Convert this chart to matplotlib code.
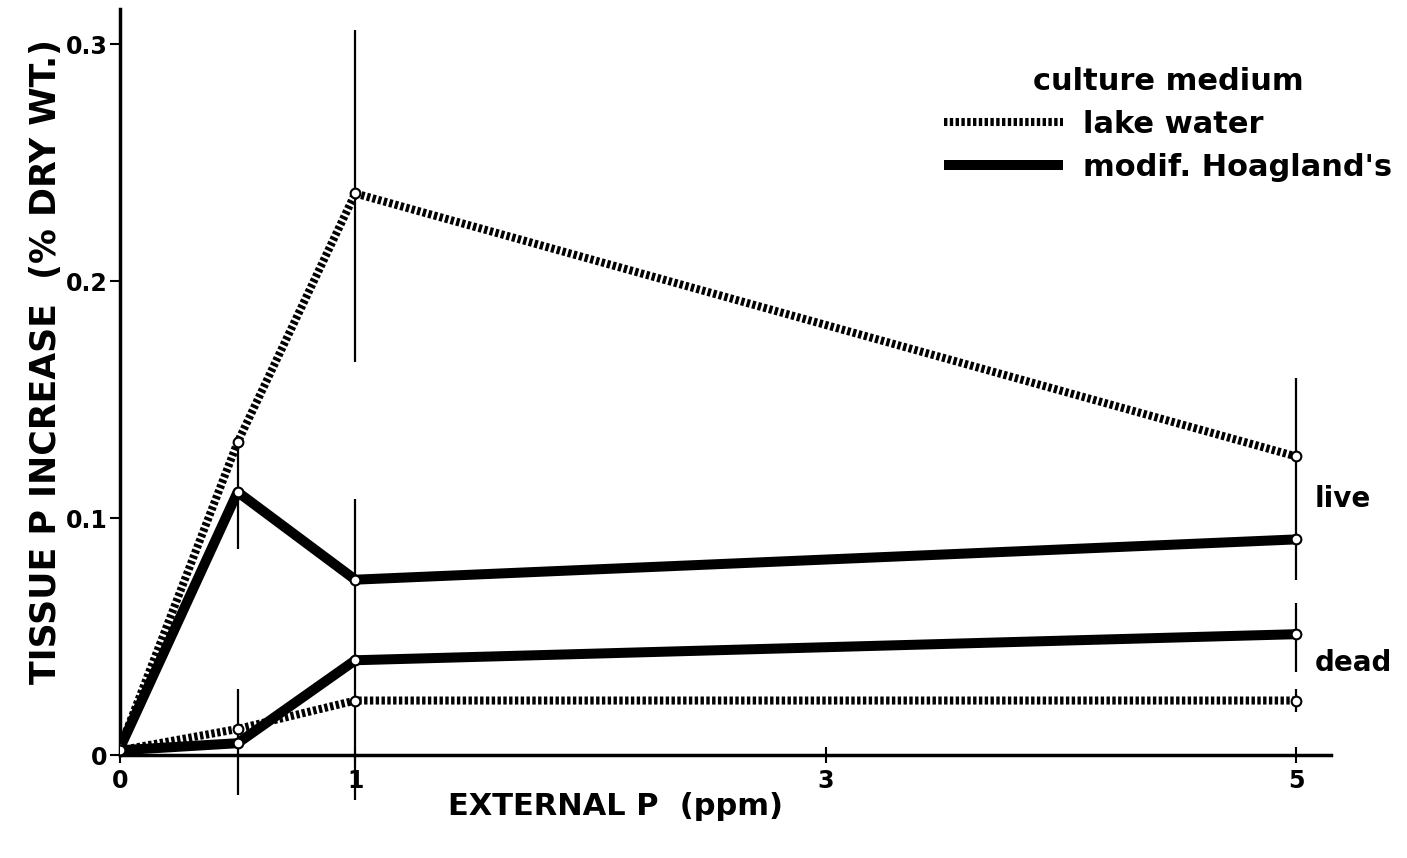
import numpy as np
import matplotlib.pyplot as plt
from matplotlib.lines import Line2D

# external P (ppm)
ext_p = [0, 0.5, 1, 5]

# tissue P increase (% dry wt.)
lake_live = [0.003, 0.132, 0.237, 0.126]
hoag_live = [0.003, 0.111, 0.074, 0.091]
hoag_dead = [0.002, 0.005, 0.040, 0.051]
lake_dead = [0.002, 0.011, 0.023, 0.023]

# vertical range bars drawn in the original figure
bar_x = [0.5, 0.5, 1, 1, 5, 5, 5]
bar_lo = [0.087, -0.017, 0.166, -0.019, 0.074, 0.035, 0.018]
bar_hi = [0.134, 0.028, 0.306, 0.108, 0.159, 0.064, 0.028]

xticks = [0, 1, 3, 5]
yticks = [0, 0.1, 0.2, 0.3]
yticklabels = ['0', '0.1', '0.2', '0.3']

plt.rcParams['font.family'] = ['DejaVu Sans']
plt.rcParams['font.weight'] = 'bold'

fig = plt.figure(figsize=(14.07, 8.58), dpi=100)
ax = fig.add_axes([0.0853, 0.120, 0.861, 0.870])

dot_kw = dict(color='black', lw=5.8, dashes=(0.42, 0.3), dash_capstyle='butt', zorder=3)
solid_kw = dict(color='black', lw=7.2, solid_capstyle='butt', zorder=3)
mk_kw = dict(marker='o', ms=7, mfc='white', mec='black', mew=1.5, ls='none', zorder=5)

ax.vlines(bar_x, bar_lo, bar_hi, color='black', lw=1.6, zorder=2, clip_on=False)

ax.plot(ext_p, lake_live, **dot_kw)
ax.plot(ext_p, lake_dead, **dot_kw)
ax.plot(ext_p, hoag_live, **solid_kw)
ax.plot(ext_p, hoag_dead, **solid_kw)
for s in (lake_live, lake_dead, hoag_live, hoag_dead):
    ax.plot(ext_p, s, **mk_kw)

ax.set_xlim(0, 5.15)
ax.set_ylim(0, 0.315)
ax.spines['top'].set_visible(False)
ax.spines['right'].set_visible(False)
ax.spines['left'].set_linewidth(2.5)
ax.spines['bottom'].set_linewidth(2.5)

ax.set_xticks(xticks)
ax.set_xticklabels([str(t) for t in xticks])
ax.set_yticks(yticks)
ax.set_yticklabels(yticklabels)
ax.tick_params(axis='y', length=7, width=1.5, pad=2, labelsize=17)
ax.tick_params(axis='x', direction='inout', length=12, width=1.5, pad=4, labelsize=17)

ax.set_ylabel('TISSUE P INCREASE  (% DRY WT.)', fontsize=25, fontweight='bold')
ax.set_xlabel('EXTERNAL P  (ppm)', fontsize=22, fontweight='bold')
ax.yaxis.set_label_coords(-0.047, 0.527)
ax.xaxis.set_label_coords(0.409, -0.05)

ax.text(5.08, 0.108, 'live', fontsize=20, fontweight='bold', va='center', ha='left', clip_on=False)
ax.text(5.08, 0.039, 'dead', fontsize=20, fontweight='bold', va='center', ha='left', clip_on=False)

handles = [Line2D([], [], **dot_kw), Line2D([], [], **solid_kw)]
leg = ax.legend(handles, ['lake water', "modif. Hoagland's"], title='culture medium',
                frameon=False, loc='upper right', bbox_to_anchor=(0.998, 0.936),
                bbox_transform=fig.transFigure, borderaxespad=0, fontsize=22,
                title_fontsize=22, handlelength=3.9, handletextpad=0.65, labelspacing=0.45)
leg.get_title().set_fontweight('bold')

fig.savefig('out.png', dpi=100)
